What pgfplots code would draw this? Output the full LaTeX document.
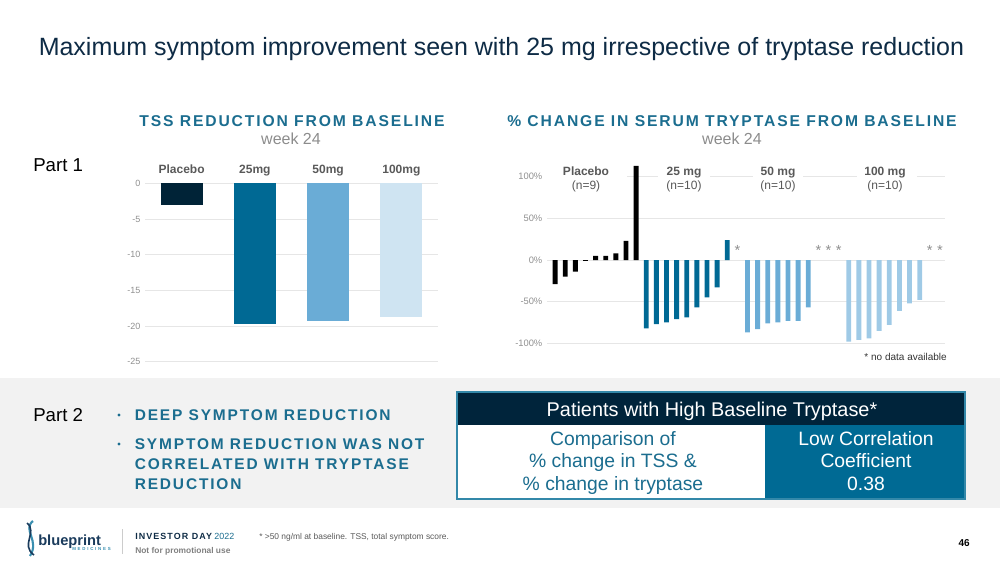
\documentclass[border=0pt]{standalone}
\usepackage{fontspec}
\setmainfont{Liberation Sans}
\newfontfamily\spaced[LetterSpace=12]{Liberation Sans}
\newfontfamily\widespaced[LetterSpace=40]{Liberation Sans}
\usepackage{pgfplots}
\pgfplotsset{compat=1.18}

\definecolor{titlenavy}{HTML}{0E2B45}
\definecolor{headblue}{HTML}{1B6D8F}
\definecolor{weekgray}{HTML}{8C8C8C}
\definecolor{labgray}{HTML}{595959}
\definecolor{tickgray}{HTML}{8F8F8F}
\definecolor{gridgray}{HTML}{E6E6E6}
\definecolor{bandgray}{HTML}{F2F2F2}
\definecolor{tabnavy}{HTML}{00243B}
\definecolor{tabblue}{HTML}{006A94}
\definecolor{cPla}{HTML}{002337}
\definecolor{cA}{HTML}{006994}
\definecolor{cB}{HTML}{6AACD6}
\definecolor{cC}{HTML}{CFE4F2}
\definecolor{cCr}{HTML}{9FCAE6}
\definecolor{logonavy}{HTML}{1A3B5C}
\definecolor{logoteal}{HTML}{3A8FB0}

\begin{document}
\begin{tikzpicture}
\begin{scope}[x=0.75pt,y=-0.75pt]
\path[use as bounding box] (0,0) rectangle (1000,568);
\fill[bandgray] (0,378) rectangle (1000,508);

% title and chart headings
\node[anchor=base west, inner sep=0, text=titlenavy, font=\fontsize{18.75}{21}\selectfont] at (38.5,55.5)
  {Maximum symptom improvement seen with 25 mg irrespective of tryptase reduction};
\node[anchor=base, inner sep=0, text=headblue, font=\spaced\bfseries\fontsize{11.75}{13}\selectfont] at (292,126)
  {TSS REDUCTION FROM BASELINE};
\node[anchor=base, inner sep=0, text=weekgray, font=\fontsize{12}{14}\selectfont] at (291,144) {week 24};
\node[anchor=base, inner sep=0, text=headblue, font=\spaced\bfseries\fontsize{11.75}{13}\selectfont] at (732,126)
  {\% CHANGE IN SERUM TRYPTASE FROM BASELINE};
\node[anchor=base, inner sep=0, text=weekgray, font=\fontsize{12}{14}\selectfont] at (732,144) {week 24};

\node[anchor=base west, inner sep=0, font=\fontsize{14}{16}\selectfont] at (33,171.7) {Part 1};
\node[anchor=base west, inner sep=0, font=\fontsize{14}{16}\selectfont] at (33,421.7) {Part 2};

% bullets
\begin{scope}[every node/.style={anchor=base west, inner sep=0, text=headblue, font=\spaced\bfseries\fontsize{11.6}{13}\selectfont}]
\node at (134.5,420) {DEEP SYMPTOM REDUCTION};
\node at (134.5,449) {SYMPTOM REDUCTION WAS NOT};
\node at (134.5,469.5) {CORRELATED WITH TRYPTASE};
\node at (134.5,489) {REDUCTION};
\fill[headblue] (119,415) circle (1.6);
\fill[headblue] (119,444) circle (1.6);
\end{scope}

% table
\fill[tabnavy] (457,392) rectangle (965,425);
\fill[white] (457,425) rectangle (765,499);
\fill[tabblue] (765,425) rectangle (965,499);
\draw[tabblue!80, line width=0.8pt] (457,392) rectangle (965,499);
\node[anchor=base, inner sep=0, text=white, font=\fontsize{14.9}{16}\selectfont] at (712,416)
  {Patients with High Baseline Tryptase*};
\begin{scope}[every node/.style={anchor=base, inner sep=0, font=\fontsize{14.5}{16}\selectfont}]
\node[text=headblue] at (613,445) {Comparison of};
\node[text=headblue] at (613,467.5) {\% change in TSS \&};
\node[text=headblue] at (613,490.5) {\% change in tryptase};
\node[text=white] at (866,445) {Low Correlation};
\node[text=white] at (866,467.5) {Coefficient};
\node[text=white] at (866,490.5) {0.38};
\end{scope}

% footer
\draw[logoteal, line width=1.6pt] (33,521) .. controls (22,530) and (40,540) .. (30,556);
\draw[logonavy, line width=1.2pt] (27,523) .. controls (38,532) and (20,545) .. (34,555);
\node[anchor=base west, inner sep=0, text=logonavy, font=\bfseries\fontsize{11}{12}\selectfont] at (38,545) {blueprint};
\node[anchor=base west, inner sep=0, text=logoteal, font=\widespaced\bfseries\fontsize{3.3}{4}\selectfont] at (72,550.5) {MEDICINES};
\draw[gray!40, line width=0.5pt] (122.5,529) -- (122.5,554);
\node[anchor=base west, inner sep=0, font=\fontsize{6.7}{8}\selectfont] at (135,539)
  {{\spaced\bfseries\color{titlenavy}INVESTOR DAY} {\color{headblue}2022}};
\node[anchor=base west, inner sep=0, text=gray, font=\bfseries\fontsize{6.3}{8}\selectfont] at (135,553.3)
  {Not for promotional use};
\node[anchor=base west, inner sep=0, text=labgray, font=\fontsize{6.3}{7}\selectfont] at (259,539.3)
  {* >50 ng/ml at baseline. TSS, total symptom score.};
\node[anchor=base east, inner sep=0, font=\bfseries\fontsize{7.5}{9}\selectfont] at (970,546) {46};
\end{scope}

% left chart: TSS reduction
\begin{axis}[
  at={(108.75pt,-271.275pt)}, anchor=south west,
  scale only axis, width=219.75pt, height=133.8pt,
  xmin=-0.5, xmax=3.5, ymin=-25, ymax=0,
  ybar, bar width=0.57, bar shift=0pt,
  axis line style={draw=none}, major tick length=0pt,
  ytick={-25,-20,-15,-10,-5,0},
  ymajorgrids, grid style={gridgray, line width=0.6pt},
  xtick={0,1,2,3}, xticklabels={Placebo,25mg,50mg,100mg},
  xticklabel pos=upper,
  xticklabel style={anchor=base, yshift=7.7pt, text=labgray, font=\bfseries\fontsize{9}{10}\selectfont},
  yticklabel style={text=tickgray, font=\fontsize{6.75}{8}\selectfont},
  /pgf/number format/assume math mode=true,
  clip=false,
]
\addplot[fill=cPla, draw=none] coordinates {(0,-3.05)};
\addplot[fill=cA, draw=none] coordinates {(1,-19.65)};
\addplot[fill=cB, draw=none] coordinates {(2,-19.35)};
\addplot[fill=cC, draw=none] coordinates {(3,-18.7)};
\end{axis}

% right chart: % change in serum tryptase
\begin{axis}[
  at={(410.25pt,-257.475pt)}, anchor=south west,
  scale only axis, width=298.5pt, height=124.95pt,
  xmin=-0.8, xmax=38.5, ymin=-100, ymax=100,
  ybar, bar width=0.48, bar shift=0pt,
  axis line style={draw=none}, major tick length=0pt,
  ytick={-100,-50,0,50,100},
  yticklabel={\pgfmathprintnumber{\tick}\%},
  xtick=\empty,
  ymajorgrids, grid style={gridgray, line width=0.6pt},
  yticklabel style={text=tickgray, font=\fontsize{7}{8}\selectfont},
  /pgf/number format/assume math mode=true,
  clip=false,
]
\addplot[fill=black, draw=none] coordinates {(0,-29) (1,-20) (2,-14) (3,-1) (4,5) (5,5) (6,8) (7,23) (8,113)};
\addplot[fill=cA, draw=none] coordinates {(9,-82) (10,-77) (11,-75) (12,-71) (13,-69) (14,-57) (15,-45) (16,-33) (17,24)};
\addplot[fill=cB, draw=none] coordinates {(19,-87) (20,-83) (21,-76) (22,-75) (23,-73) (24,-73) (25,-57)};
\addplot[fill=cCr, draw=none] coordinates {(29,-98) (30,-96) (31,-94) (32,-85) (33,-78) (34,-61) (35,-52) (36,-48)};
\foreach \s in {18,26,27,28,37,38} {
  \edef\temp{\noexpand\node[text=tickgray, font=\noexpand\fontsize{11}{12}\noexpand\selectfont, inner sep=0] at (axis cs:\s,12) {*};}
  \temp
}
\end{axis}

\begin{scope}[x=0.75pt,y=-0.75pt]
\fill[white] (546,162) rectangle (626.5,194);
\fill[white] (658,162) rectangle (710,194);
\fill[white] (753,162) rectangle (803,194);
\fill[white] (856.5,162) rectangle (916.5,194);
\begin{scope}[every node/.style={anchor=base, inner sep=0, text=labgray}]
\node[font=\bfseries\fontsize{9}{10}\selectfont] at (586,175) {Placebo};
\node[font=\fontsize{9}{10}\selectfont] at (586,189.3) {(n=9)};
\node[font=\bfseries\fontsize{9}{10}\selectfont] at (684,175) {25 mg};
\node[font=\fontsize{9}{10}\selectfont] at (684,189.3) {(n=10)};
\node[font=\bfseries\fontsize{9}{10}\selectfont] at (778,175) {50 mg};
\node[font=\fontsize{9}{10}\selectfont] at (778,189.3) {(n=10)};
\node[font=\bfseries\fontsize{9}{10}\selectfont] at (885,175) {100 mg};
\node[font=\fontsize{9}{10}\selectfont] at (885,189.3) {(n=10)};
\end{scope}
\node[anchor=base east, inner sep=0, text=black!80, font=\fontsize{7.5}{9}\selectfont] at (947,360) {* no data available};
\end{scope}
\end{tikzpicture}
\end{document}
